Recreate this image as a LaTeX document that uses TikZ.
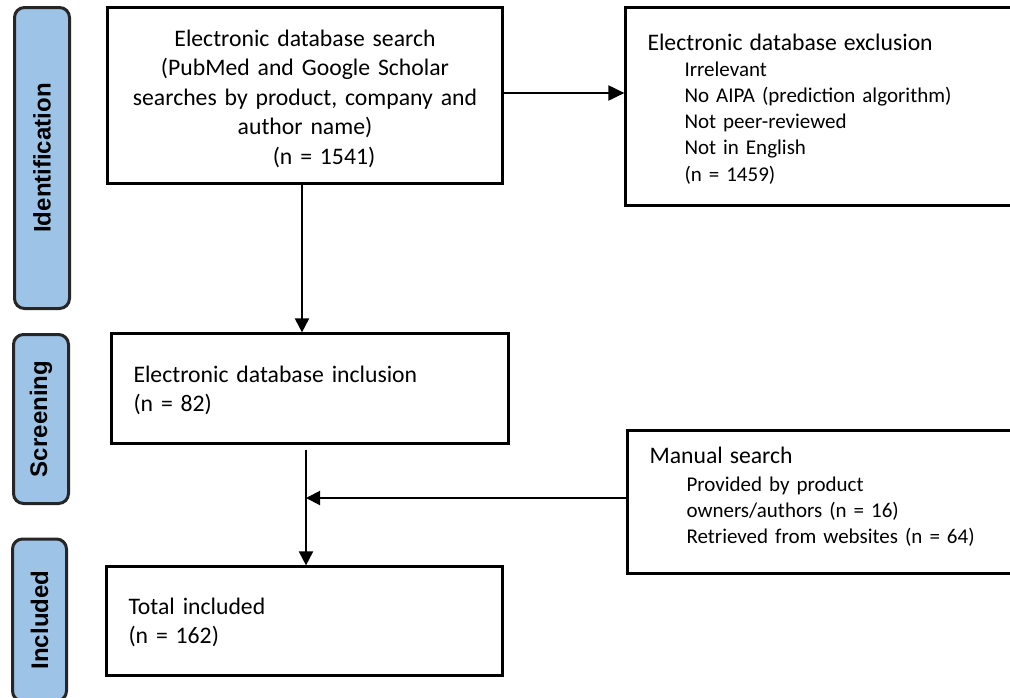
\documentclass[tikz,border=0pt]{standalone}
\usepackage{fontspec}
\setmainfont{Carlito}
\newfontfamily\phasefont{Liberation Sans}
\usetikzlibrary{arrows.meta}
\definecolor{phaseblue}{RGB}{157,195,230}
\newcommand{\indentline}{\hspace*{37pt}}
\newcommand{\headfont}{\fontsize{23.7}{26.2}\selectfont}
% invisible struts fixing the height of the first and the depth of the last line
\newcommand{\topgap}[1]{\rule{0pt}{#1}}
\newcommand{\botgap}[1]{\rule[-#1]{0pt}{#1}}

\begin{document}
\begin{tikzpicture}[x=1pt, y=1pt, >={Triangle[width=14pt,length=14pt]}, line width=2pt,
  box/.style={draw, line width=2.2pt, inner xsep=22pt, inner ysep=0pt, align=left, font=\fontsize{23.7}{29.5}\selectfont},
  listbox/.style={box, font=\fontsize{21}{26.2}\selectfont},
  phase/.style={draw=black!85, line width=3pt, fill=phaseblue, rounded corners=10pt, rotate=90, inner sep=0pt, font=\phasefont\bfseries\fontsize{24}{28}\selectfont}]
  \clip (0,0) rectangle (1010,-697);
  % phase labels down the left side
  \draw (42.0, -158.0)node[phase, minimum width=301, minimum height=55](ident){Identification};
  \draw (41.0, -419.0)node[phase, minimum width=169, minimum height=55](screen){Screening};
  \draw (39.5, -620.0)node[phase, minimum width=162, minimum height=54](inclu){Included};
  % flow boxes
  \draw (305.0, -95.5)node[box, align=center, inner xsep=10pt, text width=375, minimum height=176](search){\topgap{27pt}Electronic database search\\(PubMed and Google Scholar\\searches by product, company and\\author name)\\\hspace*{38pt}(n = 1541)\botgap{8pt}};
  \draw (827.5, -106.5)node[listbox, text width=360, minimum height=198](excl){\topgap{26pt}{\headfont Electronic database exclusion}\\\indentline Irrelevant\\\indentline No AIPA (prediction algorithm)\\\indentline Not peer-reviewed\\\indentline Not in English\\\indentline (n = 1459)\botgap{8pt}};
  \draw (310.0, -388.5)node[box, text width=353, minimum height=110](incl){\topgap{24.5pt}Electronic database inclusion\\(n = 82)\botgap{8pt}};
  \draw (828.5, -502.0)node[listbox, text width=358, minimum height=143](manual){\topgap{22.4pt}{\headfont Manual search}\\[1.8pt]\indentline Provided by product\\\indentline owners/authors (n = 16)\\\indentline Retrieved from websites (n = 64)\botgap{20pt}};
  \draw (304.5, -621.0)node[box, text width=352, minimum height=109](total){\topgap{23.5pt}Total included\\(n = 162)\botgap{8pt}};
  \coordinate (merge) at ([xshift=-4pt,yshift=-5pt]incl.south);
  % connectors
  \draw[->, >={Triangle[width=15pt,length=16pt]}] ([yshift=2.5pt]search.east) -- ([yshift=2.5pt]search.east -| excl.west);
  \draw[->] ([xshift=-3pt]search.south) -- ([xshift=-3pt]search.south |- incl.north);
  \draw[->] (merge) -- (merge |- total.north);
  \draw[->] ([yshift=4pt]manual.west) -- ([yshift=4pt]manual.west -| merge);
\end{tikzpicture}
\end{document}
